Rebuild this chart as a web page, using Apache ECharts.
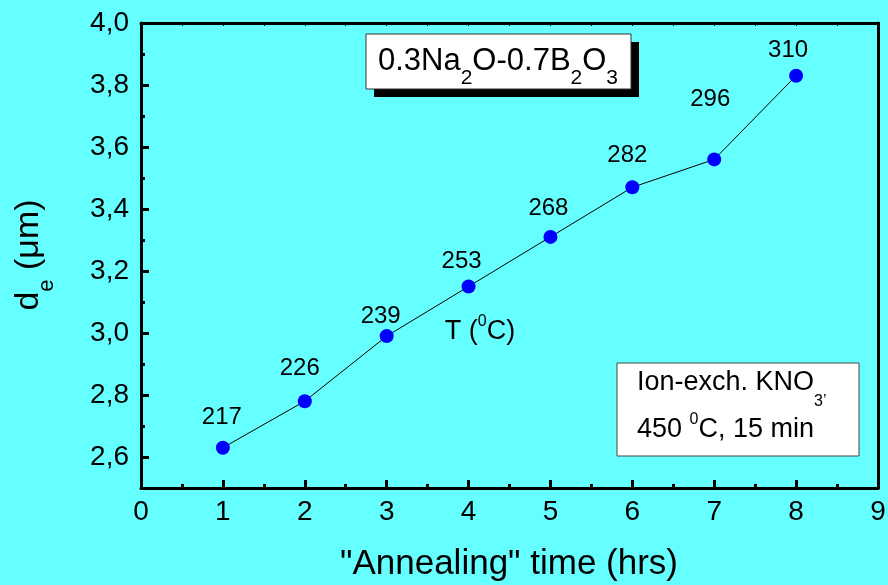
<!DOCTYPE html>
<html><head><meta charset="utf-8">
<script src="https://cdn.jsdelivr.net/npm/echarts@6/dist/echarts.min.js"></script>
<style>html,body{margin:0;padding:0;background:#66FFFF}#c{width:888px;height:585px}</style>
</head><body><div id="c"></div>
<script>
// ---- data ----
const hours = [1, 2, 3, 4, 5, 6, 7, 8];
const depth = [2.63, 2.78, 2.99, 3.15, 3.31, 3.47, 3.56, 3.83];
const tempC = ['217', '226', '239', '253', '268', '282', '296', '310'];
const yMajorTicks = [2.6, 2.8, 3.0, 3.2, 3.4, 3.6, 3.8, 4.0];
const yMinorTicks = [2.7, 2.9, 3.1, 3.3, 3.5, 3.7, 3.9];
const xMin = 0, xMax = 9, yMin = 2.5, yMax = 4.0;

// ---- layout (label nudges relative to point centre) ----
const labelNudge = [[-1,-30],[-5,-33],[-6,-20],[-7,-25],[-2,-29],[-5,-32],[-4,-60],[-8,-25]];

const FONT = '"Liberation Sans", Arial, Helvetica, sans-serif';
const chart = echarts.init(document.getElementById('c'), null, {renderer: 'canvas'});

const seriesData = hours.map((h, i) => ({
  value: [h, depth[i]],
  label: {offset: labelNudge[i]}
}));

const option = {
  backgroundColor: '#66FFFF',
  animation: false,
  grid: {left: 141, right: 10, top: 23, bottom: 97, containLabel: false, outerBoundsMode: 'none'},
  xAxis: [{
    type: 'value', position: 'bottom', min: xMin, max: xMax, interval: 1,
    axisLine: {show: true, onZero: false, lineStyle: {color: '#000', width: 3}},
    axisTick: {show: true, inside: true, length: 8, lineStyle: {color: '#000', width: 3}},
    minorTick: {show: true, splitNumber: 2, length: 4, lineStyle: {color: '#000', width: 3}},
    axisLabel: {color: '#000', fontSize: 28, fontFamily: FONT, margin: 10},
    splitLine: {show: false}
  }, {
    type: 'value', position: 'top', min: xMin, max: xMax, interval: 0.5,
    axisLine: {show: true, onZero: false, lineStyle: {color: '#000', width: 3}},
    axisTick: {show: true, inside: true, length: 3, lineStyle: {color: '#000', width: 1}},
    axisLabel: {show: false}, splitLine: {show: false}
  }],
  yAxis: [{
    type: 'value', position: 'left', min: yMin, max: yMax,
    axisLine: {show: true, onZero: false, lineStyle: {color: '#000', width: 3}},
    axisTick: {show: true, inside: true, length: 8, customValues: yMajorTicks, lineStyle: {color: '#000', width: 3}},
    axisLabel: {color: '#000', fontSize: 28, fontFamily: FONT, margin: 12, customValues: yMajorTicks,
      formatter: v => v.toFixed(1).replace('.', ',')},
    splitLine: {show: false}
  }, {
    type: 'value', position: 'left', min: yMin, max: yMax, offset: 0,
    axisLine: {show: false, onZero: false},
    axisTick: {show: true, inside: true, length: 4, customValues: yMinorTicks, lineStyle: {color: '#000', width: 3}},
    axisLabel: {show: false}, splitLine: {show: false}
  }, {
    type: 'value', position: 'right', min: yMin, max: yMax,
    axisLine: {show: true, onZero: false, lineStyle: {color: '#000', width: 3}},
    axisTick: {show: false}, axisLabel: {show: false}, splitLine: {show: false}
  }],
  series: [{
    type: 'line', xAxisIndex: 0, yAxisIndex: 0,
    data: seriesData,
    symbol: 'circle', symbolSize: 14,
    itemStyle: {color: '#0000FF'},
    lineStyle: {color: '#000', width: 1},
    label: {
      show: true, position: 'inside', color: '#000', fontSize: 24, fontFamily: FONT,
      align: 'center', verticalAlign: 'middle',
      formatter: p => tempC[p.dataIndex]
    },
    z: 5
  }],
  graphic: [
    // title box with shadow
    {type: 'rect', shape: {x: 374, y: 42, width: 265, height: 55}, style: {fill: '#000'}, z: 10},
    {type: 'rect', shape: {x: 366, y: 34, width: 265, height: 55}, style: {fill: '#fff', stroke: '#333', lineWidth: 1}, z: 11},
    {type: 'text', x: 498, y: 61, z: 12, style: {
      text: '{m|0.3Na}{s|2}{m|O-0.7B}{s|2}{m|O}{s|3}',
      align: 'center', verticalAlign: 'middle',
      rich: {
        m: {fontSize: 31, fontFamily: FONT, fill: '#000', lineHeight: 36},
        s: {fontSize: 21, fontFamily: FONT, fill: '#000', lineHeight: 21, padding: [35, 0, 0, 0]}
      }}},
    // info box
    {type: 'rect', shape: {x: 617, y: 363, width: 242, height: 93}, style: {fill: '#fff', stroke: '#444', lineWidth: 1}, z: 10},
    {type: 'text', x: 637, y: 383, z: 12, style: {
      text: '{m|Ion-exch. KNO}{s|3’}',
      align: 'left', verticalAlign: 'middle',
      rich: {
        m: {fontSize: 27, fontFamily: FONT, fill: '#000', lineHeight: 32},
        s: {fontSize: 16, fontFamily: FONT, fill: '#000', lineHeight: 16, padding: [38, 0, 0, 0]}
      }}},
    {type: 'text', x: 637, y: 430, z: 12, style: {
      text: '{m|450 }{p|0}{m|C, 15 min}',
      align: 'left', verticalAlign: 'middle',
      rich: {
        m: {fontSize: 27, fontFamily: FONT, fill: '#000', lineHeight: 32},
        p: {fontSize: 16, fontFamily: FONT, fill: '#000', lineHeight: 16, padding: [0, 0, 20, 0]}
      }}},
    // T (0C)
    {type: 'text', x: 480, y: 332, z: 12, style: {
      text: '{m|T (}{p|0}{m|C)}',
      align: 'center', verticalAlign: 'middle',
      rich: {
        m: {fontSize: 27, fontFamily: FONT, fill: '#000', lineHeight: 32},
        p: {fontSize: 16, fontFamily: FONT, fill: '#000', lineHeight: 16, padding: [0, 0, 20, 0]}
      }}},
    // x axis name
    {type: 'text', x: 509, y: 564, z: 12, style: {
      text: '"Annealing" time (hrs)', fontSize: 35, fontFamily: FONT, fill: '#000',
      align: 'center', verticalAlign: 'middle'}},
    // y axis name
    {type: 'text', x: 29, y: 255, rotation: Math.PI / 2, z: 12, style: {
      text: '{m|d}{s|e}{m| (μm)}',
      align: 'center', verticalAlign: 'middle',
      rich: {
        m: {fontSize: 34, fontFamily: FONT, fill: '#000', lineHeight: 40},
        s: {fontSize: 22, fontFamily: FONT, fill: '#000', lineHeight: 22, padding: [36, 0, 0, 0]}
      }}}
  ]
};
chart.setOption(option);
</script>
</body></html>
